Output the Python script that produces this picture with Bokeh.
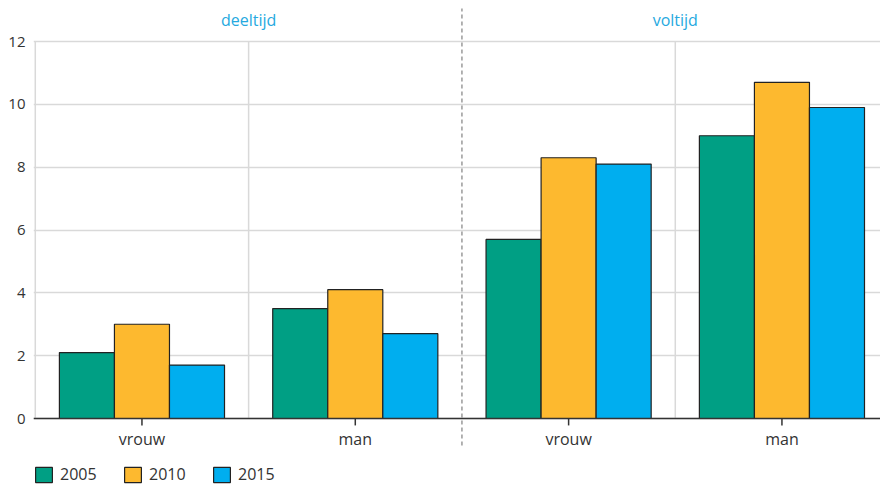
from bokeh.plotting import figure
from bokeh.models import (Range1d, LinearAxis, FixedTicker, ColumnDataSource, Legend,
                          LegendItem, Grid)
from bokeh.transform import dodge
from bokeh.core.properties import value
from bokeh.embed import file_html
from bokeh.resources import INLINE

# ---- data ----
groups = ["deeltijd", "voltijd"]
genders = ["vrouw", "man", "vrouw", "man"]
years = ["2005", "2010", "2015"]
v2005 = [2.1, 3.5, 5.7, 9.0]
v2010 = [3.0, 4.1, 8.3, 10.7]
v2015 = [1.7, 2.7, 8.1, 9.9]
y_ticks = [0, 2, 4, 6, 8, 10, 12]

colors = ["#009f84", "#fdb92f", "#00aeef"]
FONT = "Open Sans"
TXT = "#333333"
GRID = "#d9d9d9"

n = len(genders)
xs = [i + 0.5 for i in range(n)]
src = ColumnDataSource(dict(x=xs, v2005=v2005, v2010=v2010, v2015=v2015, g=genders,
                            zero=[0] * n))

p = figure(width=880, height=484,
           x_range=Range1d(-0.0084, 3.962), y_range=Range1d(-2.1, 13.305),
           output_backend="svg", toolbar_location=None,
           x_axis_type=None, y_axis_type=None,
           min_border_left=33, min_border_right=0, min_border_top=0, min_border_bottom=0,
           outline_line_color=None)

# horizontal grid
p.add_layout(Grid(dimension=1, ticker=FixedTicker(ticks=y_ticks),
                  grid_line_color=GRID, grid_line_width=1.5))

# vertical light separators within groups, and left line
top = max(y_ticks)
sep_x = [0, 1, 3]
p.segment(x0=sep_x, y0=[0] * 3, x1=sep_x, y1=[top] * 3,
          line_color=GRID, line_width=1.5)

# dashed separator between deeltijd and voltijd
mid = n // 2
p.segment(x0=[mid], y0=[-0.86], x1=[mid], y1=[13.05],
          line_color="#808080", line_width=1.2, line_dash="4 3")

bw = 0.258
offs = [-bw, 0, bw]
rends = []
for col, c, o in zip(["v2005", "v2010", "v2015"], colors, offs):
    r = p.vbar(x=dodge("x", o, range=p.x_range), top=col, bottom=0, width=bw,
               source=src, fill_color=c, line_color="#222222", line_width=1.2)
    rends.append(r)

# x axis line, ticks and labels at y = 0
p.segment(x0=[p.x_range.start], y0=[0], x1=[p.x_range.end], y1=[0],
          line_color=TXT, line_width=1.5)
p.segment(x0="x", y0="zero", x1="x", y1=-0.22, source=src,
          line_color=TXT, line_width=1.5)
p.text(x="x", y="zero", text="g", source=src, y_offset=20,
       text_align="center", text_baseline="middle",
       text_font=value(FONT), text_font_size="16px", text_color=TXT)

# y axis
yax = LinearAxis(ticker=FixedTicker(ticks=y_ticks))
yax.axis_line_color = None
yax.major_tick_line_color = None
yax.major_tick_out = 0
yax.major_tick_in = 0
yax.minor_tick_line_color = None
yax.major_label_standoff = 8
yax.major_label_text_font = FONT
yax.major_label_text_font_size = "15px"
yax.major_label_text_color = TXT
p.add_layout(yax, "left")

# group headers
p.text(x=[2 * i + 1 for i in range(len(groups))], y=[top] * len(groups),
       text=groups, y_offset=-22, text_align="center", text_baseline="middle",
       text_font=value(FONT), text_font_size="16px", text_color="#26a9e0")

legend = Legend(items=[LegendItem(label=y, renderers=[r]) for y, r in zip(years, rends)],
                orientation="horizontal", location=(0, -1),
                border_line_color=None, background_fill_alpha=0,
                padding=0, margin=0, spacing=22, label_width=40,
                glyph_width=21, glyph_height=19, label_standoff=6,
                label_text_font=FONT, label_text_font_size="16px",
                label_text_color=TXT)
p.add_layout(legend, "center")

open("out.html", "w").write(file_html(p, INLINE))
